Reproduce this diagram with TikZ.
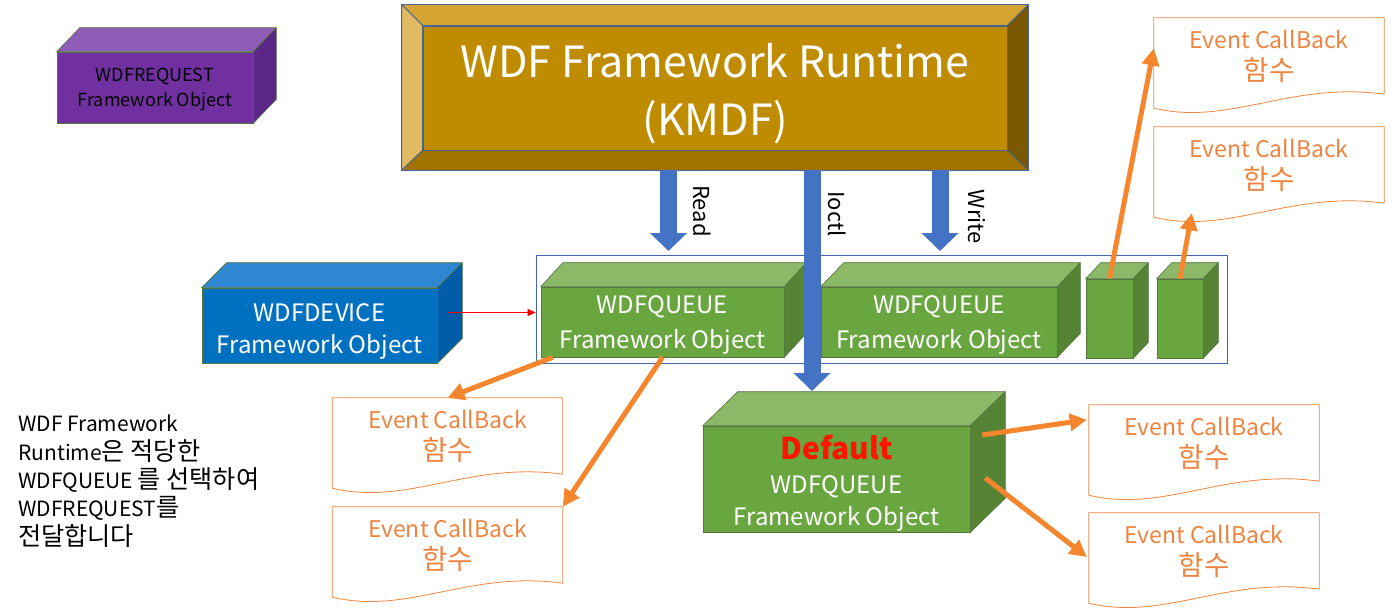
\documentclass[tikz,border=0pt]{standalone}
\usepackage{fontspec}
\setmainfont{Noto Sans CJK KR}
\newfontfamily\hangul[Scale=1.2]{Noto Sans CJK KR}
\usepackage{xcolor}
\usepackage{tikz}
\usetikzlibrary{calc}
\usetikzlibrary{backgrounds}
\usetikzlibrary{arrows.meta}
\pgfdeclarelayer{edgelayer}
\pgfdeclarelayer{nodelayer}
\pgfsetlayers{background,nodelayer,edgelayer,main}
\definecolor{goldface}{RGB}{191,140,0}
\definecolor{goldtop}{RGB}{212,164,48}
\definecolor{goldleft}{RGB}{226,186,98}
\definecolor{goldright}{RGB}{122,88,0}
\definecolor{goldbottom}{RGB}{160,114,0}
\definecolor{bevelline}{RGB}{70,100,150}
\definecolor{purplefront}{RGB}{112,48,160}
\definecolor{purpletop}{RGB}{143,93,183}
\definecolor{purpleside}{RGB}{92,40,136}
\definecolor{bluefront}{RGB}{0,112,192}
\definecolor{bluetop}{RGB}{46,135,208}
\definecolor{blueside}{RGB}{0,92,166}
\definecolor{greenfront}{RGB}{106,166,64}
\definecolor{greentop}{RGB}{140,185,104}
\definecolor{greenside}{RGB}{84,132,52}
\definecolor{cubeedge}{RGB}{84,116,64}
\definecolor{defaultred}{RGB}{255,20,0}
\definecolor{ioblue}{RGB}{68,114,196}
\definecolor{cborange}{RGB}{238,132,64}
\definecolor{callorange}{RGB}{245,134,46}
\definecolor{containerline}{RGB}{70,100,170}
\tikzstyle{none}=[inner sep=0mm]
\tikzstyle{runtime frame}=[draw=bevelline,line width=0.8pt,inner sep=0pt,minimum width=626pt,minimum height=165pt]
\tikzstyle{runtime}=[fill=goldface,draw=bevelline,line width=0.8pt,inner sep=0pt,minimum width=584pt,minimum height=124pt,text=white,align=center,font=\fontsize{43}{58}\selectfont]
\tikzstyle{bevel}=[draw=bevelline,line width=0.8pt,line join=round]
\tikzstyle{front}=[inner sep=0pt,align=center,draw=cubeedge,line width=0.6pt]
\tikzstyle{request}=[front,fill=purplefront,text=black,font=\fontsize{18}{25}\selectfont]
\tikzstyle{device}=[front,fill=bluefront,text=white,font=\fontsize{24}{32}\selectfont]
\tikzstyle{queue}=[front,fill=greenfront,text=white,font=\fontsize{24}{35}\selectfont]
\tikzstyle{queues}=[draw=containerline,line width=0.8pt,inner sep=0pt]
\tikzstyle{callback}=[inner sep=0pt,minimum width=230pt,minimum height=76pt,text=cborange,align=center,font=\fontsize{23}{32}\selectfont]
\tikzstyle{callback edge}=[draw=cborange,line width=0.8pt]
\tikzstyle{io}=[draw=ioblue,line width=17pt,-{Triangle[width=36pt,length=18pt]}]
\tikzstyle{io label}=[none,rotate=-90,font=\fontsize{22}{22}\selectfont]
\tikzstyle{callto}=[draw=callorange,line width=5pt,-{Triangle[width=17pt,length=17pt]}]
\tikzstyle{attach}=[draw=red,line width=0.5pt,-{Triangle[width=7pt,length=8pt]}]
\tikzstyle{note}=[none,align=left,anchor=north west,font=\fontsize{21}{28.3}\selectfont]
% top and side faces of a box: name, dx, dy, top colour, side colour
\newcommand{\boxfaces}[5]{
	\filldraw[fill=#4,draw=cubeedge,line width=0.6pt,line join=round] (#1.north west) -- ++(#2,#3) -- ($(#1.north east)+(#2,#3)$) -- (#1.north east) -- cycle;
	\filldraw[fill=#5,draw=cubeedge,line width=0.6pt,line join=round] (#1.north east) -- ++(#2,#3) -- ($(#1.south east)+(#2,#3)$) -- (#1.south east) -- cycle;
}
% page outline with a wavy foot
\newcommand{\docframe}[1]{
	\draw[callback edge] (#1.south east) -- (#1.north east) -- (#1.north west) -- ($(#1.south west)+(0,14)$) .. controls +(76,18) and +(-94,-13) .. (#1.south east);
}
% taller first line, pushes the text down
\newcommand{\lift}[1]{\rule{0pt}{#1pt}}

\begin{document}
\begin{tikzpicture}[x=1pt,y=-1pt]
	\useasboundingbox (0,0) rectangle (1394,615);
	\begin{pgfonlayer}{nodelayer}
		% runtime
		\node [style=runtime frame] (frame) at (715,87.5) {};
		\node [style=runtime] (runtime) at (715,88) {\lift{45}WDF Framework Runtime\\(KMDF)};
		\filldraw [style=bevel,fill=goldtop] (frame.north west) -- (frame.north east) -- (runtime.north east) -- (runtime.north west) -- cycle;
		\filldraw [style=bevel,fill=goldleft] (frame.north west) -- (runtime.north west) -- (runtime.south west) -- (frame.south west) -- cycle;
		\filldraw [style=bevel,fill=goldright] (frame.north east) -- (runtime.north east) -- (runtime.south east) -- (frame.south east) -- cycle;
		\filldraw [style=bevel,fill=goldbottom] (frame.south west) -- (runtime.south west) -- (runtime.south east) -- (frame.south east) -- cycle;

		% objects
		\node [style=request,minimum width=196pt,minimum height=71pt] (request) at (155,87.5) {\lift{18}WDFREQUEST\\Framework Object};
		\boxfaces{request}{23}{-24}{purpletop}{purpleside}
		\node [style=device,minimum width=235pt,minimum height=75pt] (device) at (319.5,325.5) {\lift{29}WDFDEVICE\\Framework Object};
		\boxfaces{device}{25}{-25}{bluetop}{blueside}

		% queues
		\node [style=queues,minimum width=691pt,minimum height=108pt] (queues) at (881.5,309) {};
		\node [style=queue,minimum width=243pt,minimum height=70pt] (q1) at (662.5,322) {\lift{24}WDFQUEUE\\Framework Object};
		\boxfaces{q1}{22}{-24}{greentop}{greenside}
		\node [style=queue,minimum width=236pt,minimum height=70pt] (q2) at (939,322) {\lift{24}WDFQUEUE\\Framework Object};
		\boxfaces{q2}{23}{-24}{greentop}{greenside}
		\node [style=queue,minimum width=47pt,minimum height=79pt] (sq1) at (1109.5,318.5) {};
		\boxfaces{sq1}{15}{-16}{greentop}{greenside}
		\node [style=queue,minimum width=46pt,minimum height=79pt] (sq2) at (1180,318.5) {};
		\boxfaces{sq2}{15}{-16}{greentop}{greenside}
		\node [style=queue,minimum width=267pt,minimum height=106pt] (dq) at (836.5,479) {\lift{32}{\fontsize{30}{30}\selectfont\bfseries\color{defaultred}Default}\\[-1pt]WDFQUEUE\\[-3pt]Framework Object};
		\boxfaces{dq}{35}{-34}{greentop}{greenside}

		% callbacks
		\node [style=callback] (cb1) at (1269,56) {Event CallBack\\{\hangul 함수}};
		\docframe{cb1}
		\node [style=callback] (cb2) at (1269,165) {Event CallBack\\{\hangul 함수}};
		\docframe{cb2}
		\node [style=callback] (cb3) at (447.5,436) {Event CallBack\\{\hangul 함수}};
		\docframe{cb3}
		\node [style=callback] (cb4) at (447.5,545) {Event CallBack\\{\hangul 함수}};
		\docframe{cb4}
		\node [style=callback] (cb5) at (1204,443) {Event CallBack\\{\hangul 함수}};
		\docframe{cb5}
		\node [style=callback] (cb6) at (1204,551) {Event CallBack\\{\hangul 함수}};
		\docframe{cb6}

		\node [style=note] (note) at (18,415) {WDF Framework\\Runtime{\hangul 은 적당한}\\WDFQUEUE {\hangul 를 선택하여}\\WDFREQUEST{\hangul 를}\\{\hangul 전달합니다}};
		\node [style=io label] (readlbl) at (702,211) {Read};
		\node [style=io label] (ioctllbl) at (837,214) {Ioctl};
		\node [style=io label] (writelbl) at (977,217) {Write};
	\end{pgfonlayer}
	\begin{pgfonlayer}{edgelayer}
		\coordinate (read) at (668.5,251);
		\coordinate (ioctl) at (812,391);
		\coordinate (write) at (940,251);
		\draw [style=io] (read |- frame.south) -- (read);
		\draw [style=io] (ioctl |- frame.south) -- (ioctl);
		\draw [style=io] (write |- frame.south) -- (write);

		\coordinate (devout) at ($(device.east)+(11,-13)$);
		\draw [style=attach] (devout) -- (devout -| queues.west);

		\draw [style=callto] (sq1.north) -- ($(cb1.north west)!0.4!(cb1.south west)$);
		\draw [style=callto] (sq2.north) -- ($(cb2.south west)+(38,10)$);
		\draw [style=callto] ($(q1.south west)+(12,0)$) -- (cb3.north);
		\draw [style=callto] (q1.south) -- (cb4.north east);
		\draw [style=callto] ($(dq.east)+(12,-44)$) -- ($(cb5.north west)+(-2,15)$);
		\draw [style=callto] ($(dq.east)+(15,-1)$) -- ($(cb6.west)+(-2,6)$);
	\end{pgfonlayer}
\end{tikzpicture}
\end{document}
